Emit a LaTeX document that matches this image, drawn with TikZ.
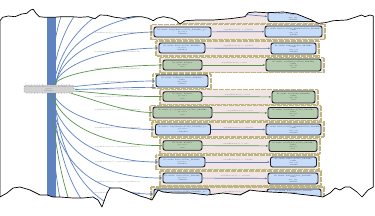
\documentclass[tikz,border=0pt]{standalone}
\usepackage{fontspec}
\usetikzlibrary{arrows.meta}
\definecolor{bfill}{HTML}{C6DCF8}
\definecolor{gfill}{HTML}{B5CCB0}
\definecolor{cfill}{HTML}{D2D2D2}
\definecolor{clfill}{HTML}{F0E4E4}
\definecolor{cldraw}{HTML}{BDB680}
\definecolor{bedgec}{HTML}{5F82C0}
\definecolor{gedgec}{HTML}{58964A}
\newcommand\rsF{\fontsize{1.6}{1.9}\selectfont}
\newcommand\rsLblFont{\fontsize{1.6}{2}\selectfont}
\tikzset{
  nbox/.style={rounded corners=2.2pt, draw=black!88, line width=0.9pt, inner sep=0pt, align=center, font=\rsF, text=black!80},
  bnode/.style={nbox, fill=bfill},
  gnode/.style={nbox, fill=gfill},
  cnode/.style={rounded corners=1.5pt, draw=gray!90, dotted, line width=0.7pt, fill=cfill, inner sep=0pt, align=center, font=\rsF, text=black!55, minimum width=48pt, minimum height=8pt},
  cluster/.style={fill=clfill, draw=cldraw, line width=1.1pt, dash pattern=on 0.6pt off 0.6pt},
  wcluster/.style={fill=white, draw=cldraw, line width=1.1pt, dash pattern=on 0.6pt off 0.6pt},
  bedge/.style={draw=bedgec, line width=0.7pt},
  gedge/.style={draw=gedgec, line width=0.7pt},
  baredge/.style={draw=bedgec, line width=1pt},
  arr/.style={-{Latex[length=2.4pt,width=2pt]}},
  elbl/.style={font=\rsLblFont, text=black!55, inner sep=0.3pt},
  torn/.style={draw=black, line width=0.7pt, line join=round},
}
\begin{document}
\begin{tikzpicture}[x=1pt,y=-1pt]
\useasboundingbox (0,0) rectangle (375,215);
\begin{scope}
\clip (0,20.7) -- (2.7,17.3) -- (8.3,16) -- (15,16.7) -- (21.7,14) -- (26.7,13.3) -- (30.7,10) -- (33.3,9.3) -- (36,13.3) -- (39.3,16.7) -- (45,17.3) -- (53.3,17.3) -- (61.7,16.7) -- (71.7,16.7) -- (80,17.3) -- (88.3,16.7) -- (95,18.7) -- (100,15) -- (106.7,15.3) -- (115,17.3) -- (123.3,18.3) -- (133.3,16.7) -- (141.7,16.7) -- (148.3,18.3) -- (153.3,20.7) -- (156.7,18.3) -- (163.3,16.7) -- (171.7,18.3) -- (176.7,20.7) -- (180,24) -- (185,20.7) -- (196.7,20) -- (213.3,20) -- (230,18.7) -- (245,16.7) -- (248.3,12.7) -- (255,12) -- (266.7,12.7) -- (283.3,12) -- (296.7,14) -- (305,17.3) -- (311.7,20) -- (318.3,23.3) -- (325,22.7) -- (333.3,20.7) -- (346.7,20) -- (355,17.3) -- (361.7,15) -- (365,16.7) -- (370,15) -- (373.3,16) -- (373.3,187) -- (368,190) -- (362,197) -- (357,192) -- (350,187) -- (345,187) -- (340,190) -- (335,188) -- (330,193) -- (323,197) -- (317,196) -- (307,195) -- (290,193) -- (270,192) -- (257,191) -- (250,190) -- (240,195) -- (223,193) -- (207,195) -- (190,193) -- (173,193) -- (163,192) -- (158,190) -- (155,195) -- (152,200) -- (147,198) -- (140,196) -- (130,192) -- (120,188) -- (110,188) -- (107,193) -- (102,207) -- (98,200) -- (93,197) -- (83,198) -- (73,198) -- (60,197) -- (53,197) -- (47,195) -- (40,195) -- (30,190) -- (20,187) -- (13,188) -- (7,193) -- (0,197) -- cycle;

% clusters
\draw[cluster] (178,4) rectangle (322,23.5);
\draw[cluster] (151,24.5) rectangle (325,39.5);
\draw[cluster] (156,41) rectangle (319,56);
\draw[cluster] (160,57.5) rectangle (324,72.5);
\draw[wcluster] (153,74) rectangle (211,88.5);
\draw[cluster] (160,89.5) rectangle (318,104.5);
\draw[cluster] (150,105.5) rectangle (321,120.5);
\draw[cluster] (152,122) rectangle (324,137);
\draw[cluster] (160,138.5) rectangle (320,153.5);
\draw[cluster] (156,155) rectangle (319,169.5);
\draw[cluster] (160,171) rectangle (321,186);
\draw[cluster] (151,187) rectangle (324,202);

% off-picture ends
\coordinate (o1) at (72,-6);
\coordinate (o2) at (95,-6);
\coordinate (o3) at (130,-2);
\coordinate (o4) at (66,222);
\coordinate (o5) at (78,222);
\coordinate (o6) at (100,220);
\coordinate (o7) at (130,212);
\foreach \i in {0,...,8} {
  \coordinate (up\i) at (47+\i,-8);
  \coordinate (dn\i) at (47+\i,222);
}

% central node
\node[cnode] (C) at (49,89) {ID: 0x001: AudioSplitter<AUDIO\_FRAME>\_main\\splitter\\utilBuffers};

% left nodes
\node[bnode, minimum width=47pt, minimum height=10pt] (L0) at (204.5,13) {ID: 0x0A0: Gain<AUDIO\_FRAME>\\processor\\[0.4pt]outBuffers};
\node[bnode, minimum width=57pt, minimum height=10pt] (L1) at (182.5,32) {ID: 0x0A1: SampleBuffer<AUDIO\_FRAME>\_proc\\processor\\[0.4pt]outBuffers};
\node[bnode, minimum width=46pt, minimum height=10pt] (L2) at (182,48) {ID: 0x0A2: Filter<AUDIO\_FRAME>\\processor\\[0.4pt]outBuffers};
\node[gnode, minimum width=39pt, minimum height=10pt] (L3) at (182.5,65) {ID: 0x0A3: Analyzer\\processor\\[0.4pt]stats};
\node[bnode, minimum width=52pt, minimum height=12pt] (L4) at (182,81) {ID: 0x0A4: UtilBuffer<AUDIO\_FRAME>\\buffer\\[0.4pt]size: 1024\\utilBuff};
\node[gnode, minimum width=39pt, minimum height=9.5pt] (L5) at (182.5,96.5) {ID: 0x0A5: Analyzer\\processor\\[0.4pt]stats};
\node[gnode, minimum width=59pt, minimum height=11pt] (L6) at (182.5,112.5) {ID: 0x0A6: SpectrumAnalyzer<AUDIO\_FRAME>\\processor\\[0.4pt]stats};
\node[bnode, minimum width=55pt, minimum height=11pt] (L7) at (183,129.5) {ID: 0x0A7: SampleBuffer<AUDIO\_FRAME>\_proc\\processor\\[0.4pt]outBuffers};
\node[gnode, minimum width=39pt, minimum height=9.5pt] (L8) at (182.5,145.5) {ID: 0x0A8: Analyzer\\processor\\[0.4pt]stats};
\node[bnode, minimum width=46pt, minimum height=10pt] (L9) at (182,162) {ID: 0x0A9: Filter<AUDIO\_FRAME>\\processor\\[0.4pt]outBuffers};
\node[bnode, minimum width=39pt, minimum height=10pt] (L10) at (182.5,178) {ID: 0x0AA: Gain<AUDIO\_FRAME>\\processor\\[0.4pt]outBuffers};
\node[bnode, minimum width=56pt, minimum height=10pt] (L11) at (182,194) {ID: 0x0AB: SampleBuffer<AUDIO\_FRAME>\_proc\\processor\\[0.4pt]outBuffers};

% right nodes
\node[bnode, minimum width=50pt, minimum height=10pt] (R0) at (293,16.5) {ID: 0x0B0: Buffer<AUDIO\_FRAME>\\buffer\\[0.4pt]size: 512\\outBuffer};
\node[bnode, minimum width=57pt, minimum height=11pt] (R1) at (293.5,31.5) {ID: 0x0B1: Buffer<AUDIO\_FRAME,AUDIO\_FRAME>\\buffer\\[0.4pt]size: 512\\outBuffer};
\node[bnode, minimum width=45pt, minimum height=11pt] (R2) at (293.5,48.5) {ID: 0x0B2: Buffer<AUDIO\_FRAME>\\buffer\\[0.4pt]size: 512\\outBuffer};
\node[gnode, minimum width=55pt, minimum height=12pt] (R3) at (293.5,65) {ID: 0x0B3: StatsBuffer<AUDIO\_FRAME>\\buffer\\[0.4pt]size: 64\\stats};
\node[gnode, minimum width=43pt, minimum height=12pt] (R5) at (293.5,97) {ID: 0x0B5: StatsBuffer<FRAME>\\buffer\\[0.4pt]size: 64\\stats};
\node[gnode, minimum width=50pt, minimum height=11pt] (R6) at (293,113) {ID: 0x0B6: StatsBuffer<AUDIO\_FRAME>\\buffer\\[0.4pt]size: 64\\stats};
\node[bnode, minimum width=55pt, minimum height=11pt] (R7) at (293.5,129.5) {ID: 0x0B7: Buffer<AUDIO\_FRAME,AUDIO\_FRAME>\\buffer\\[0.4pt]size: 512\\outBuffer};
\node[gnode, minimum width=48pt, minimum height=11pt] (R8) at (293,146) {ID: 0x0B8: StatsBuffer<AUDIO\_FRAME>\\buffer\\[0.4pt]size: 64\\stats};
\node[bnode, minimum width=46pt, minimum height=10pt] (R9) at (293.5,162) {ID: 0x0B9: Buffer<AUDIO\_FRAME>\\buffer\\[0.4pt]size: 512\\outBuffer};
\node[bnode, minimum width=50pt, minimum height=11pt] (R10) at (293,178.5) {ID: 0x0BA: Buffer<AUDIO\_FRAME>\\buffer\\[0.4pt]size: 512\\outBuffer};
\node[bnode, minimum width=54pt, minimum height=10pt] (R11) at (294,194) {ID: 0x0BB: Buffer<AUDIO\_FRAME>\\buffer\\[0.4pt]size: 512\\outBuffer};

% the bundle of vertical edges
\foreach \i in {0,...,8} {
  \draw[baredge] ([xshift={(\i-2)*1pt}]C.north) -- (up\i);
  \draw[baredge] ([xshift={(\i-2)*1pt}]C.south) -- (dn\i);
}
\draw[bedge] ([xshift=1pt]C.north) .. controls (53,40) and (60,10) .. (o1);
\draw[bedge] ([xshift=3pt]C.north) .. controls (56,40) and (75,8) .. (o2);
\draw[bedge] ([xshift=5pt]C.north) .. controls (60,40) and (95,10) .. (o3);
\draw[bedge] ([xshift=1pt]C.south) .. controls (52,150) and (58,200) .. (o4);
\draw[gedge] ([xshift=2pt]C.south) .. controls (54,150) and (66,200) .. (o5);
\draw[bedge] ([xshift=4pt]C.south) .. controls (57,160) and (75,200) .. (o6);
\draw[bedge] ([xshift=5pt]C.south) .. controls (60,170) and (95,205) .. (o7);

% fan edges to the left nodes
\draw[bedge,arr] ([xshift=7pt]C.north) .. controls (62,40) and (110,13) .. (L0.west);
\draw[bedge,arr] ([xshift=6pt]C.north) .. controls (62,55) and (100,33) .. (L1.west);
\draw[bedge,arr] ([xshift=5pt]C.north) .. controls (63,63) and (105,49) .. (L2.west);
\draw[gedge,arr] ([xshift=4pt]C.north) .. controls (65,72) and (110,66) .. (L3.west);
\draw[bedge,arr] ([yshift=2.5pt]C.east) .. controls (100,84) and (130,81) .. (L4.west);
\draw[bedge,arr] (L4.south west) .. controls (130,87) and (100,89) .. ([yshift=-0.5pt]C.east);
\draw[gedge,arr] ([yshift=-2pt]C.east) .. controls (100,93) and (130,97) .. (L5.west);
\draw[gedge,arr] ([xshift=-3pt]C.south east) .. controls (95,100) and (125,112) .. (L6.west);
\draw[bedge,arr] ([xshift=4pt]C.south) .. controls (62,115) and (105,129) .. (L7.west);
\draw[gedge,arr] ([xshift=3pt]C.south) .. controls (60,125) and (105,146) .. (L8.west);
\draw[bedge,arr] ([xshift=2pt]C.south) .. controls (58,137) and (100,162) .. (L9.west);
\draw[bedge,arr] ([xshift=1pt]C.south) .. controls (56,152) and (100,178) .. (L10.west);
\draw[bedge,arr] ([xshift=0pt]C.south) .. controls (55,166) and (95,194) .. (L11.west);

% labels of the fan edges
\node[elbl] (f1) at (117,33) {outputElements[1][0] -> inputs[0].inputElements};
\node[elbl] (f2) at (117,52) {outputElements[1][1] -> inputs[0].inputElements};
\node[elbl] (f3) at (117,69.5) {outputElements[1][2] -> inputs[0].inputElements};
\node[elbl] (f4) at (117,82) {outputElements[0][?] -> utilBuff};
\node[elbl] (f4b) at (117,90) {outputElements[1][?] -> inputs[0].inputElements};
\node[elbl] (f5) at (117,97) {outputElements[1][3] -> inputs[0].inputElements};
\node[elbl] (f6) at (117,110) {outputElements[1][4] -> inputs[0].inputElements};
\node[elbl] (f7) at (117,128) {outputElements[1][5] -> inputs[0].inputElements};
\node[elbl] (f8) at (117,147) {outputElements[1][6] -> inputs[0].inputElements};
\node[elbl] (f9) at (117,162) {outputElements[1][7] -> inputs[0].inputElements};
\node[elbl] (f10) at (117,182) {outputElements[1][8] -> inputs[0].inputElements};
\node[elbl] (f11) at (117,193) {outputElements[1][9] -> inputs[0].inputElements};

% edges inside the clusters
\draw[bedge,arr] (L0.east) -- (R0.west);
\draw[bedge,arr] (L1) -- node[elbl, above=0.4pt] {outputElements[0] -> outBuffer} (R1);
\draw[bedge,arr] (L2) -- node[elbl, above=0.4pt] {outputElements[0] -> outBuffer} (R2);
\draw[gedge,arr] (L3) -- node[elbl, above=0.4pt] {outputElements[0] -> stats} (R3);
\draw[gedge,arr] (L5) -- node[elbl, above=0.4pt] {outputElements[0] -> stats} (R5);
\draw[gedge,arr] (L6) -- node[elbl, above=0.4pt] {outputElements[0] -> stats} (R6);
\draw[bedge,arr] (L7) -- node[elbl, above=0.4pt] {outputElements[0] -> outBuffer} (R7);
\draw[gedge,arr] (L8) -- node[elbl, above=0.4pt] {outputElements[0] -> stats} (R8);
\draw[bedge,arr] (L9) -- node[elbl, above=0.4pt] {outputElements[0] -> outBuffer} (R9);
\draw[bedge,arr] (L10) -- node[elbl, above=0.4pt] {outputElements[0] -> outBuffer} (R10);
\draw[bedge,arr] (L11) -- node[elbl, above=0.4pt] {outputElements[0] -> outBuffer} (R11);
\end{scope}

\draw[torn] (0,20.7) -- (2.7,17.3) -- (8.3,16) -- (15,16.7) -- (21.7,14) -- (26.7,13.3) -- (30.7,10) -- (33.3,9.3) -- (36,13.3) -- (39.3,16.7) -- (45,17.3) -- (53.3,17.3) -- (61.7,16.7) -- (71.7,16.7) -- (80,17.3) -- (88.3,16.7) -- (95,18.7) -- (100,15) -- (106.7,15.3) -- (115,17.3) -- (123.3,18.3) -- (133.3,16.7) -- (141.7,16.7) -- (148.3,18.3) -- (153.3,20.7) -- (156.7,18.3) -- (163.3,16.7) -- (171.7,18.3) -- (176.7,20.7) -- (180,24) -- (185,20.7) -- (196.7,20) -- (213.3,20) -- (230,18.7) -- (245,16.7) -- (248.3,12.7) -- (255,12) -- (266.7,12.7) -- (283.3,12) -- (296.7,14) -- (305,17.3) -- (311.7,20) -- (318.3,23.3) -- (325,22.7) -- (333.3,20.7) -- (346.7,20) -- (355,17.3) -- (361.7,15) -- (365,16.7) -- (370,15) -- (373.3,16) -- (373.3,187) -- (368,190) -- (362,197) -- (357,192) -- (350,187) -- (345,187) -- (340,190) -- (335,188) -- (330,193) -- (323,197) -- (317,196) -- (307,195) -- (290,193) -- (270,192) -- (257,191) -- (250,190) -- (240,195) -- (223,193) -- (207,195) -- (190,193) -- (173,193) -- (163,192) -- (158,190) -- (155,195) -- (152,200) -- (147,198) -- (140,196) -- (130,192) -- (120,188) -- (110,188) -- (107,193) -- (102,207) -- (98,200) -- (93,197) -- (83,198) -- (73,198) -- (60,197) -- (53,197) -- (47,195) -- (40,195) -- (30,190) -- (20,187) -- (13,188) -- (7,193) -- (0,197) -- cycle;
\end{tikzpicture}
\end{document}
